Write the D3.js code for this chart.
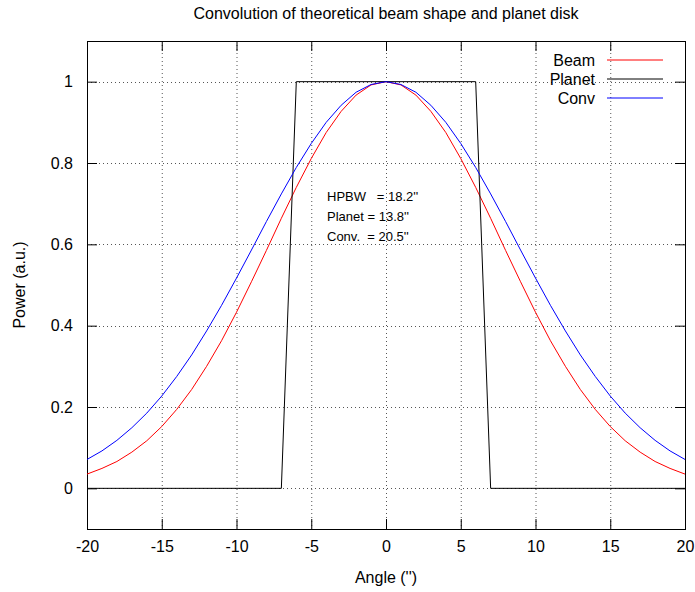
<!DOCTYPE html>
<html>
<head>
<meta charset="utf-8">
<script src="https://cdn.jsdelivr.net/npm/d3@7"></script>
<style>
  body { margin: 0; background: #fff; }
  text { font-family: "Liberation Sans", Arial, sans-serif; fill: #000; }
</style>
</head>
<body>
<svg id="chart" width="695" height="592"></svg>
<script>
// angles in arcsec, sampled every 1''
const angles = d3.range(-20, 21);
// half-profiles from 0 to 20'' (curves are symmetric)
const beamHalf = [1, 0.992, 0.967, 0.927, 0.875, 0.811, 0.740, 0.664, 0.585, 0.508, 0.433,
                  0.363, 0.300, 0.243, 0.194, 0.152, 0.117, 0.089, 0.066, 0.049, 0.035];
const convHalf = [1, 0.993, 0.974, 0.942, 0.900, 0.848, 0.789, 0.724, 0.656, 0.586, 0.517,
                  0.450, 0.387, 0.328, 0.275, 0.227, 0.185, 0.149, 0.118, 0.092, 0.071];
const planetX = [-20, -7, -6, 6, 7, 20];
const planetY = [0, 0, 1, 1, 0, 0];
const xTicks = [-20, -15, -10, -5, 0, 5, 10, 15, 20];
const yTicks = [0, 0.2, 0.4, 0.6, 0.8, 1];
const series = ["Beam", "Planet", "Conv"];
const colors = ["#ff0000", "#000000", "#0000ff"];
const notes = ["HPBW   = 18.2''", "Planet = 13.8''", "Conv.  = 20.5''"];

const beam = angles.map(a => ({x: a, y: beamHalf[Math.abs(a)]}));
const conv = angles.map(a => ({x: a, y: convHalf[Math.abs(a)]}));
const planet = planetX.map((a, i) => ({x: a, y: planetY[i]}));

const svg = d3.select("#chart");
const pLeft = 87, pRight = 685, pTop = 41, pBottom = 529;

const x = d3.scaleLinear().domain([-20, 20]).range([pLeft, pRight]);
const y = d3.scaleLinear().domain([-0.1, 1.1]).range([pBottom, pTop]);

// grid
const grid = svg.append("g").attr("stroke", "#555").attr("stroke-width", 1)
    .attr("stroke-dasharray", "1,3");
xTicks.slice(1, -1).forEach(t => {
    grid.append("line").attr("x1", x(t) + 0.5).attr("x2", x(t) + 0.5)
        .attr("y1", pTop).attr("y2", pBottom);
});
yTicks.forEach(t => {
    grid.append("line").attr("x1", pLeft).attr("x2", pRight)
        .attr("y1", Math.round(y(t)) + 0.5).attr("y2", Math.round(y(t)) + 0.5);
});

// axes with inward ticks on all sides
const tl = 10;
const plain = d => String(d);
svg.append("g").attr("transform", `translate(0,${pBottom})`)
    .call(d3.axisBottom(x).tickValues(xTicks).tickSizeInner(-tl).tickSizeOuter(0).tickPadding(12)
        .tickFormat(plain))
    .call(g => g.select(".domain").remove());
svg.append("g").attr("transform", `translate(0,${pTop})`)
    .call(d3.axisTop(x).tickValues(xTicks).tickSizeInner(-tl).tickSizeOuter(0).tickFormat(""))
    .call(g => g.select(".domain").remove());
svg.append("g").attr("transform", `translate(${pLeft},0)`)
    .call(d3.axisLeft(y).tickValues(yTicks).tickSizeInner(-tl).tickSizeOuter(0).tickPadding(14)
        .tickFormat(plain))
    .call(g => g.select(".domain").remove());
svg.append("g").attr("transform", `translate(${pRight},0)`)
    .call(d3.axisRight(y).tickValues(yTicks).tickSizeInner(-tl).tickSizeOuter(0).tickFormat(""))
    .call(g => g.select(".domain").remove());
svg.selectAll(".tick text").attr("font-size", 16)
    .attr("font-family", "Liberation Sans, Arial, sans-serif");
svg.selectAll(".tick line").attr("stroke", "#000");

// border
svg.append("rect").attr("x", pLeft + 0.5).attr("y", pTop + 0.5)
    .attr("width", pRight - pLeft).attr("height", pBottom - pTop)
    .attr("fill", "none").attr("stroke", "#000");

// curves
const line = d3.line().x(d => x(d.x)).y(d => y(d.y));
[beam, planet, conv].forEach((data, i) => {
    svg.append("path").datum(data).attr("d", line)
        .attr("fill", "none").attr("stroke", colors[i]).attr("stroke-width", 1);
});

// legend
const legend = svg.append("g");
series.forEach((s, i) => {
    const ly = 60 + i * 19;
    legend.append("text").attr("x", 595).attr("y", ly).attr("dy", "0.35em")
        .attr("text-anchor", "end").attr("font-size", 16).text(s);
    legend.append("path").attr("d", `M607,${ly}H663`)
        .style("stroke", colors[i]).style("stroke-width", 1).style("fill", "none");
});

// annotations
notes.forEach((n, i) => {
    svg.append("text").attr("x", 327).attr("y", 196 + i * 20).attr("dy", "0.35em")
        .attr("font-size", 13).style("white-space", "pre").text(n);
});

// titles
svg.append("text").attr("x", 386).attr("y", 13).attr("dy", "0.35em")
    .attr("text-anchor", "middle").attr("font-size", 16)
    .text("Convolution of theoretical beam shape and planet disk");
svg.append("text").attr("x", 386).attr("y", 577).attr("dy", "0.35em")
    .attr("text-anchor", "middle").attr("font-size", 16).text("Angle ('')");
svg.append("text").attr("transform", "translate(19,285) rotate(-90)").attr("dy", "0.35em")
    .attr("text-anchor", "middle").attr("font-size", 16).text("Power (a.u.)");
</script>
</body>
</html>
